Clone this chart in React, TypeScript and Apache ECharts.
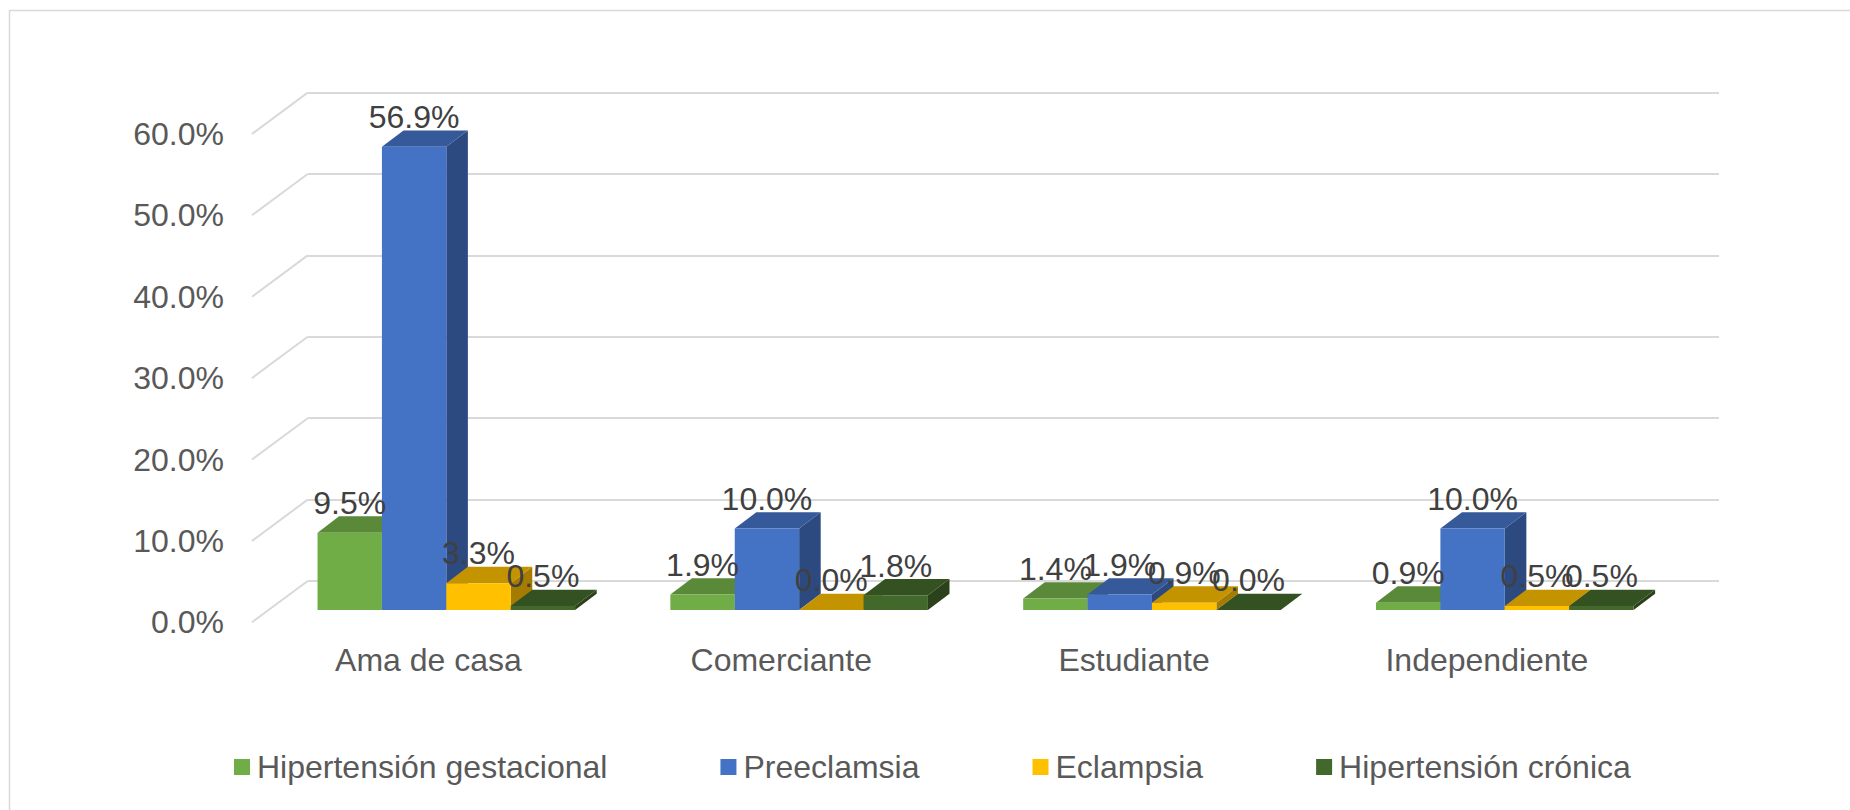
import React, { useEffect, useRef } from 'react';
import * as echarts from 'echarts';

const categories = ['Ama de casa', 'Comerciante', 'Estudiante', 'Independiente'];
const seriesNames = ['Hipertensión gestacional', 'Preeclamsia', 'Eclampsia', 'Hipertensión crónica'];
const hipertensionGestacional = [9.5, 1.9, 1.4, 0.9];
const preeclamsia = [56.9, 10.0, 1.9, 10.0];
const eclampsia = [3.3, 0.0, 0.9, 0.5];
const hipertensionCronica = [0.5, 1.8, 0.0, 0.5];
const yTicks = [0, 10, 20, 30, 40, 50, 60];
const Y_MAX = 60;
const Y_INTERVAL = 10;

const seriesValues = [hipertensionGestacional, preeclamsia, eclampsia, hipertensionCronica];

const FRONT_COLORS = ['#70AD47', '#4472C4', '#FFC000', '#43682B'];
const TOP_COLORS = ['#5a8a39', '#355999', '#c49400', '#345122'];
const SIDE_COLORS = ['#466b2c', '#2c4a80', '#a67c00', '#2a411b'];

const FONT = '"Liberation Sans", Arial, sans-serif';
const PLOT_W = 1411.3;
const PLOT_H = 488.4;
const BAR_GRID = { left: 269.9, top: 121.6 };
const BACK_GRID = { left: 307.7, top: 92.6 };
const FLOOR_GRID = { left: 252, top: 133.9 };
const FLOOR_DX = FLOOR_GRID.left - BACK_GRID.left;
const FLOOR_DY = FLOOR_GRID.top - BACK_GRID.top;
const GROUP_RATIO = 0.73;
const DEPTH_X_RATIO = 0.335;
const DEPTH_Y = -16.3;

const fmt = (v: number) => v.toFixed(1) + '%';

const makeBarRender = (si: number) => (params: any, api: any) => {
  const cat = api.value(0);
  const v = api.value(1);
  const base = api.coord([cat, 0]);
  const topP = api.coord([cat, v]);
  const band = api.size([1, 0])[0];
  const bw = (band * GROUP_RATIO) / 4;
  const x0 = base[0] - 2 * bw + si * bw;
  const x1 = x0 + bw;
  const ty = topP[1];
  const by = base[1];
  const dx = bw * DEPTH_X_RATIO;
  const dy = DEPTH_Y;
  return {
    type: 'group',
    children: [
      {
        type: 'polygon',
        shape: { points: [[x1, ty], [x1, by], [x1 + dx, by + dy], [x1 + dx, ty + dy]] },
        style: { fill: SIDE_COLORS[si] },
      },
      {
        type: 'polygon',
        shape: { points: [[x0, ty], [x1, ty], [x1 + dx, ty + dy], [x0 + dx, ty + dy]] },
        style: { fill: TOP_COLORS[si] },
      },
      {
        type: 'rect',
        shape: { x: x0, y: ty, width: bw, height: Math.max(0, by - ty) },
        style: { fill: FRONT_COLORS[si] },
      },
      {
        type: 'text',
        x: x0 + bw / 2,
        y: ty + dy - 13.5,
        z2: 100,
        style: {
          text: fmt(v),
          fill: '#404040',
          fontSize: 32,
          fontFamily: FONT,
          align: 'center',
          verticalAlign: 'middle',
        },
      },
    ],
  };
};

export default function App() {
  const ref = useRef<HTMLDivElement>(null);
  useEffect(() => {
    const chart = echarts.init(ref.current!, null, { renderer: 'svg' });
    const option: any = {
      animation: false,
      backgroundColor: '#ffffff',
      color: FRONT_COLORS,
      graphic: [
        {
          type: 'rect',
          silent: true,
          shape: { x: 9.5, y: 10.5, width: 2000, height: 1000 },
          style: { fill: 'none', stroke: '#d9d9d9', lineWidth: 1.5 },
        },
      ],
      legend: {
        data: seriesNames,
        left: 234,
        top: 751,
        padding: 0,
        icon: 'rect',
        itemWidth: 16,
        itemHeight: 16,
        itemGap: 113,
        selectedMode: false,
        textStyle: { fontSize: 32, color: '#595959', fontFamily: FONT, padding: [0, 0, 0, 2] },
      },
      grid: [
        { left: BAR_GRID.left, top: BAR_GRID.top, width: PLOT_W, height: PLOT_H },
        { left: BACK_GRID.left, top: BACK_GRID.top, width: PLOT_W, height: PLOT_H },
        { left: FLOOR_GRID.left, top: FLOOR_GRID.top, width: PLOT_W, height: PLOT_H },
      ],
      xAxis: [
        { gridIndex: 0, type: 'category', data: categories, show: false },
        { gridIndex: 1, type: 'category', data: categories, show: false },
        {
          gridIndex: 2,
          type: 'category',
          data: categories,
          axisLine: { show: false },
          axisTick: { show: false },
          axisLabel: {
            fontSize: 32,
            color: '#595959',
            fontFamily: FONT,
            margin: 38,
            verticalAlign: 'middle',
          },
        },
      ],
      yAxis: [
        { gridIndex: 0, type: 'value', min: 0, max: Y_MAX, interval: Y_INTERVAL, show: false },
        {
          gridIndex: 1,
          type: 'value',
          min: 0,
          max: Y_MAX,
          interval: Y_INTERVAL,
          axisLine: { show: false },
          axisTick: { show: false },
          axisLabel: { show: false },
          splitLine: { show: true, lineStyle: { color: '#d9d9d9', width: 2 } },
        },
        {
          gridIndex: 2,
          type: 'value',
          min: 0,
          max: Y_MAX,
          interval: Y_INTERVAL,
          axisLine: { show: false },
          axisTick: { show: false },
          splitLine: { show: false },
          axisLabel: {
            formatter: (v: number) => fmt(v),
            fontSize: 32,
            color: '#595959',
            fontFamily: FONT,
            margin: 28,
          },
        },
      ],
      series: [
        {
          type: 'custom',
          name: 'floor',
          xAxisIndex: 1,
          yAxisIndex: 1,
          silent: true,
          z: 1,
          data: yTicks.map((v) => [0, v]),
          renderItem: (params: any, api: any) => {
            const y = api.coord([0, api.value(1)])[1];
            const x = params.coordSys.x;
            return {
              type: 'line',
              shape: { x1: x, y1: y, x2: x + FLOOR_DX, y2: y + FLOOR_DY },
              style: { stroke: '#d9d9d9', lineWidth: 2 },
            };
          },
        },
        ...seriesNames.map((name, si) => ({
          type: 'custom',
          name,
          xAxisIndex: 0,
          yAxisIndex: 0,
          z: 2,
          itemStyle: { color: FRONT_COLORS[si] },
          data: seriesValues[si].map((v, i) => [i, v]),
          renderItem: makeBarRender(si),
        })),
      ],
    };
    chart.setOption(option);
    return () => chart.dispose();
  }, []);
  return (
    <div
      ref={ref}
      style={{ position: 'absolute', left: 0, top: 0, width: 1850, height: 810, background: '#fff' }}
    />
  );
}
